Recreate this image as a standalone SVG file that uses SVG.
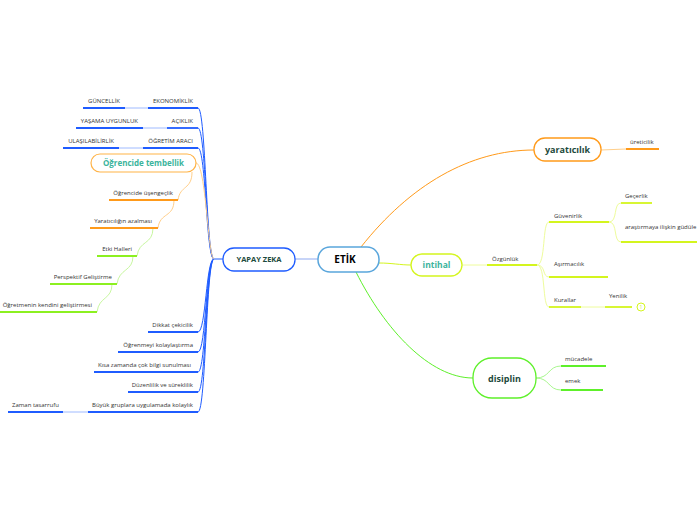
<svg xmlns="http://www.w3.org/2000/svg" width="697" height="520" viewBox="0 0 697 520">
<style>
.t{font-family:"Open Sans","Liberation Sans",sans-serif;font-size:6px;fill:#333}
.e{text-anchor:end}
.n{font-family:"Open Sans","Liberation Sans",sans-serif;font-weight:bold;text-anchor:middle}
.c{fill:none;stroke-width:1}
.u{fill:none;stroke-width:1.8}
.bl{stroke:#1f5cff}
.lbl{stroke:#9fbaff}
.or{stroke:#ff9a1a}
.lor{stroke:#ffcf8a}
.gr{stroke:#8cf020}
.lgr{stroke:#c8f7a0}
.yg{stroke:#d4f51e}
.lyg{stroke:#eefc9c}
.dg{stroke:#5ef02a}
.ldg{stroke:#a8f78e}
</style>
<rect width="697" height="520" fill="#fff"/>
<g id="connectors">
<path class="c" stroke="#8fa9f0" stroke-width="1.5" d="M318,259 L295,259"/>
<path class="c or" stroke-width="1.5" d="M361,247 C410,185 470,150 534,150"/>
<path class="c yg" stroke-width="1.5" d="M379,263 C392,263 400,265 411,265"/>
<path class="c dg" stroke-width="1.5" d="M356,272 C385,330 430,378 473,378"/>
<g class="c bl">
<path d="M223,259 L214,259 C206,259 206,108 198,108"/>
<path d="M214,259 C206,259 206,128 198,128"/>
<path d="M214,259 C206,259 206,148 198,148"/>
<path d="M214,259 C206,259 206,332 198,332"/>
<path d="M214,259 C206,259 206,352 198,352"/>
<path d="M214,259 C206,259 206,372 198,372"/>
<path d="M214,259 C206,259 206,392 198,392"/>
<path d="M214,259 C206,259 206,412 198,412"/>
</g>
<path class="c lor" d="M214,259 C208,259 206,163 196,163"/>
<g class="c lbl">
<path d="M125,108 L148,108"/>
<path d="M143,128 L167,128"/>
<path d="M119,148 L143,148"/>
<path d="M63,412 L88,412"/>
</g>
<path class="c lor" d="M192,172 C192,190 180,185 178,200"/>
<path class="c lor" d="M174,200 C174,218 160,212 158,228"/>
<path class="c lgr" d="M153,228 C153,245 139,240 137,256"/>
<path class="c lgr" d="M133,256 C133,272 119,268 117,284"/>
<path class="c lgr" d="M112,284 C112,300 99,296 97,312"/>
<path class="c lor" d="M601,150 L626,149"/>
<path class="c lyg" d="M462,265 L487,265"/>
<g class="c lyg">
<path d="M537,265 C546,265 542,222 549,222"/>
<path d="M537,265 C546,265 542,277 549,277"/>
<path d="M537,265 C546,265 542,307 549,307"/>
<path d="M609,222 C618,222 613,203 621,203"/>
<path d="M609,222 C618,222 613,242 621,242"/>
<path d="M581,307 L605,307"/>
</g>
<path class="c ldg" d="M536,378 C550,378 548,366 561,366"/>
<path class="c ldg" d="M536,378 C550,378 548,390 561,390"/>
</g>
<g id="etik">
<rect x="318" y="247" width="61" height="25" rx="12" fill="#fff" stroke="#5aa6dc" stroke-width="1.5"/>
<text class="n" x="345" y="263" font-size="10" fill="#000">ETİK</text>
</g>
<g id="yapay-zeka">
<rect x="223" y="248" width="72" height="23" rx="11" fill="#fff" stroke="#1f5cff" stroke-width="1.3"/>
<text class="n" x="259" y="262" font-size="7.5" fill="#1d4a3c">YAPAY ZEKA</text>
</g>
<g id="ekonomiklik"><text class="t e" x="193" y="103">EKONOMİKLİK</text><path class="u bl" d="M148,108 L198,108"/></g>
<g id="guncellik"><text class="t e" x="120" y="103">GÜNCELLİK</text><path class="u bl" d="M83,108 L125,108"/></g>
<g id="aciklik"><text class="t e" x="193" y="123">AÇIKLIK</text><path class="u bl" d="M167,128 L198,128"/></g>
<g id="yasama"><text class="t e" x="138" y="123">YAŞAMA UYGUNLUK</text><path class="u bl" d="M76,128 L143,128"/></g>
<g id="ogretim"><text class="t e" x="193" y="143">ÖĞRETİM ARACI</text><path class="u bl" d="M143,148 L198,148"/></g>
<g id="ulasilabilirlik"><text class="t e" x="114" y="143">ULAŞILABİLİRLİK</text><path class="u bl" d="M63,148 L119,148"/></g>
<g id="tembellik">
<rect x="91" y="154" width="105" height="18" rx="9" fill="#fff" stroke="#ffb347" stroke-width="1.2"/>
<text class="n" x="143.5" y="166" font-size="8" fill="#3bb49c">Öğrencide tembellik</text>
</g>
<g id="usengeclik"><text class="t e" x="173" y="195">Öğrencide üşengeçlik</text><path class="u or" d="M109,200 L178,200"/></g>
<g id="yaraticilik-azalmasi"><text class="t e" x="152" y="223">Yaratıcılığın azalması</text><path class="u or" d="M90,228 L158,228"/></g>
<g id="etki"><text class="t e" x="132" y="251">Etki Halleri</text><path class="u gr" d="M97,256 L137,256"/></g>
<g id="perspektif"><text class="t e" x="112" y="279">Perspektif Geliştirme</text><path class="u gr" d="M50,284 L117,284"/></g>
<g id="ogretmenin"><text class="t e" x="92" y="307">Öğretmenin kendini geliştirmesi</text><path class="u gr" d="M0,312 L97,312"/></g>
<g id="dikkat"><text class="t e" x="193" y="327">Dikkat çekicilik</text><path class="u bl" d="M148,332 L198,332"/></g>
<g id="ogrenmeyi"><text class="t e" x="193" y="347">Öğrenmeyi kolaylaştırma</text><path class="u bl" d="M118,352 L198,352"/></g>
<g id="kisa"><text class="t e" x="191" y="367">Kısa zamanda çok bilgi sunulması</text><path class="u bl" d="M94,372 L198,372"/></g>
<g id="duzenlilik"><text class="t e" x="193" y="387">Düzenlilik ve süreklilik</text><path class="u bl" d="M128,392 L198,392"/></g>
<g id="buyuk"><text class="t e" x="193" y="407">Büyük gruplara uygulamada kolaylık</text><path class="u bl" d="M88,412 L198,412"/></g>
<g id="zaman"><text class="t" x="12" y="407">Zaman tasarrufu</text><path class="u bl" d="M8,412 L63,412"/></g>
<g id="yaraticilik">
<rect x="534" y="138" width="67" height="23" rx="11" fill="#fff" stroke="#ff9a1a" stroke-width="1.3"/>
<text class="n" x="567.5" y="153" font-size="9" fill="#1d4a3c">yaratıcılık</text>
</g>
<g id="ureticilik"><text class="t" x="630" y="144">üreticilik</text><path class="u or" d="M626,149 L659,149"/></g>
<g id="intihal">
<rect x="411" y="254" width="51" height="22" rx="11" fill="#fff" stroke="#d4f51e" stroke-width="1.3"/>
<text class="n" x="436.5" y="268" font-size="8.5" fill="#3bb49c">intihal</text>
</g>
<g id="ozgunluk"><text class="t" x="492" y="261">Özgünlük</text><path class="u yg" d="M487,265 L537,265"/></g>
<g id="guvenirlik"><text class="t" x="554" y="218">Güvenirlik</text><path class="u yg" d="M549,222 L609,222"/></g>
<g id="gecerlik"><text class="t" x="625" y="198">Geçerlik</text><path class="u yg" d="M621,203 L652,203"/></g>
<g id="arastirmaya"><text class="t" x="625" y="229">araştırmaya ilişkin güdüle</text><path class="u yg" d="M621,242 L697,242"/></g>
<g id="asirmacilik"><text class="t" x="554" y="266">Aşırmacılık</text><path class="u yg" d="M549,277 L608,277"/></g>
<g id="kurallar"><text class="t" x="554" y="302">Kurallar</text><path class="u yg" d="M549,307 L581,307"/></g>
<g id="yenilik"><text class="t" x="609" y="298">Yenilik</text><path class="u yg" d="M605,307 L632,307"/>
<circle cx="641" cy="307" r="4" fill="#fff" stroke="#d4f51e" stroke-width="1"/>
<text x="641" y="309" font-family="Open Sans, sans-serif" font-size="5" fill="#c8e84a" text-anchor="middle">1</text></g>
<g id="disiplin">
<rect x="473" y="358" width="63" height="40" rx="19" fill="#fff" stroke="#5ef02a" stroke-width="1.3"/>
<text class="n" x="504.5" y="382" font-size="9" fill="#1d4a3c">disiplin</text>
</g>
<g id="mucadele"><text class="t" x="565" y="361">mücadele</text><path class="u dg" d="M561,366 L606,366"/></g>
<g id="emek"><text class="t" x="565" y="383">emek</text><path class="u dg" d="M561,390 L603,390"/></g>
</svg>
